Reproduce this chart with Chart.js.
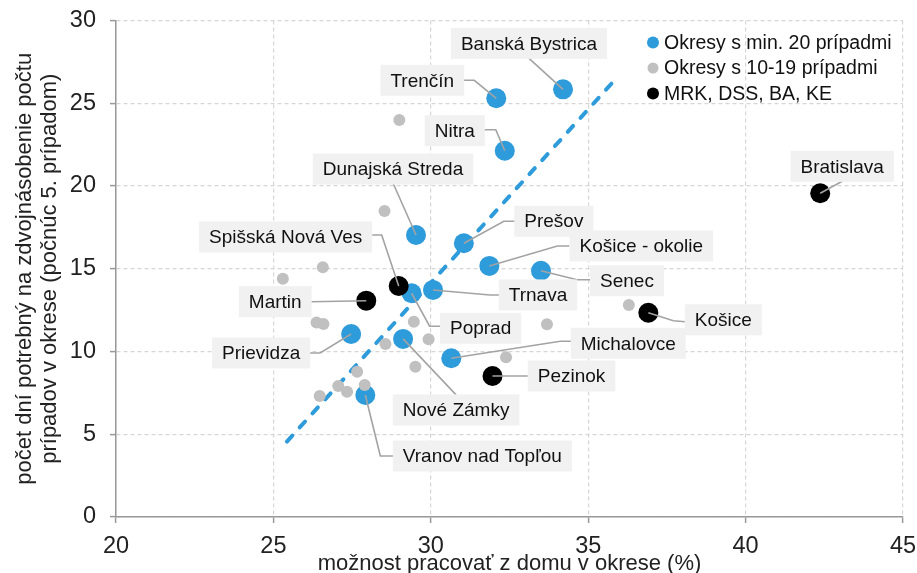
<!DOCTYPE html>
<html>
<head>
<meta charset="utf-8">
<script src="https://cdn.jsdelivr.net/npm/chart.js@4.4.1/dist/chart.umd.min.js"></script>
<style>
  html, body { margin: 0; padding: 0; background: #fff; }
</style>
</head>
<body>
<canvas id="chart" width="917" height="573"></canvas>
<script>
// districts with at least 20 cases
const blueNames = ["Banská Bystrica", "Trenčín", "Nitra", "Dunajská Streda", "Prešov", "Košice - okolie",
    "Senec", "Trnava", "Poprad", "Prievidza", "Nové Zámky", "Michalovce", "Vranov nad Topľou"];
const blueX = [34.20, 32.08, 32.35, 29.53, 31.05, 31.86, 33.50, 30.07, 29.39, 27.47, 29.12, 30.65, 27.92];
const blueY = [25.84, 25.30, 22.13, 17.04, 16.54, 15.17, 14.88, 13.72, 13.52, 11.06, 10.76, 9.59, 7.37];

// districts with 10-19 cases
const grayX = [29.00, 28.53, 26.57, 25.30, 26.37, 26.59, 29.46, 29.93, 28.56, 29.51, 33.69, 32.39, 36.29,
    26.47, 27.06, 27.34, 27.90, 27.66];
const grayY = [23.99, 18.49, 15.09, 14.40, 11.75, 11.66, 11.80, 10.74, 10.45, 9.08, 11.64, 9.65, 12.81,
    7.31, 7.92, 7.57, 7.98, 8.78];

// MRK, DSS, BA, KE
const blackNames = ["Bratislava", "Spišská Nová Ves", "Martin", "Košice", "Pezinok"];
const blackX = [42.37, 28.98, 27.95, 36.91, 31.96];
const blackY = [19.56, 13.96, 13.07, 12.34, 8.52];

// fitted line
const trendX = [25.43, 35.89];
const trendY = [4.56, 26.5];

const seriesNames = ["Okresy s min. 20 prípadmi", "Okresy s 10-19 prípadmi", "MRK, DSS, BA, KE"];
const xTitle = "možnost pracovať z domu v okrese (%)";
const yTitle = ["počet dní potrebný na zdvojnásobenie počtu", "prípadov v okrese (počnúc 5. prípadom)"];

const FONT = "'Liberation Sans', Arial, sans-serif";
const BLUE = "#2e9bdb";
const GRAY = "#c0c0c0";
const BLACK = "#000000";

// label box offset from the point (px) and leader path (anchor, elbow), also relative to the point
const callouts = {
    "Banská Bystrica": { box: [-34, -46], path: [[-34, -31]] },
    "Trenčín": { box: [-74, -18], path: [[-33, -18], [-22, -18]] },
    "Nitra": { box: [-50, -20], path: [[-21, -21], [-9, -21]] },
    "Dunajská Streda": { box: [-23, -66], path: [[-23, -52]] },
    "Spišská Nová Ves": { box: [-113, -49], path: [[-28, -51], [-17, -51]] },
    "Martin": { box: [-91, 1], path: [[-55, 1]] },
    "Prievidza": { box: [-90, 19], path: [[-43, 19], [-31, 19]] },
    "Prešov": { box: [90, -22], path: [[53, -22], [40, -22]] },
    "Košice - okolie": { box: [152, -20], path: [[80, -20], [68, -20]] },
    "Senec": { box: [86, 10], path: [[50, 9], [36, 9]] },
    "Trnava": { box: [105, 5], path: [[66, 5], [57, 5]] },
    "Poprad": { box: [69, 35], path: [[29, 33], [18, 33]] },
    "Michalovce": { box: [177, -15], path: [[121, -17], [109, -17]] },
    "Pezinok": { box: [79, 0], path: [[37, 0]] },
    "Nové Zámky": { box: [53, 71], path: [[53, 56]] },
    "Vranov nad Topľou": { box: [117, 61], path: [[28, 61], [15, 61]] },
    "Bratislava": { box: [22, -27], path: [[22, -12]] },
    "Košice": { box: [75, 7], path: [[37, 9], [25, 8]] }
};

function toPoints(xs, ys) {
    return xs.map((x, i) => ({ x: x, y: ys[i] }));
}

const calloutPlugin = {
    id: "callouts",
    afterDatasetsDraw(chart) {
        const ctx = chart.ctx;
        ctx.save();
        ctx.font = "19px " + FONT;
        chart.data.datasets.forEach((ds, di) => {
            if (!ds.names) return;
            const meta = chart.getDatasetMeta(di);
            ds.names.forEach((name, i) => {
                const c = callouts[name];
                if (!c) return;
                const px = meta.data[i].x;
                const py = meta.data[i].y;
                // leader line
                ctx.strokeStyle = "#a3a3a3";
                ctx.lineWidth = 1.6;
                ctx.beginPath();
                ctx.moveTo(px + c.path[0][0], py + c.path[0][1]);
                for (let k = 1; k < c.path.length; k++) {
                    ctx.lineTo(px + c.path[k][0], py + c.path[k][1]);
                }
                ctx.lineTo(px, py);
                ctx.stroke();
                // box
                const w = ctx.measureText(name).width + 20;
                const h = 31;
                const bx = px + c.box[0];
                const by = py + c.box[1];
                ctx.fillStyle = "#f1f1f1";
                ctx.fillRect(bx - w / 2, by - h / 2, w, h);
                ctx.fillStyle = "#111";
                ctx.textAlign = "center";
                ctx.textBaseline = "middle";
                ctx.fillText(name, bx, by + 1);
            });
        });
        ctx.restore();
    }
};

const legendPlugin = {
    id: "fixedLegend",
    afterDraw(chart) {
        const ctx = chart.ctx;
        const area = chart.chartArea;
        ctx.save();
        ctx.font = "19.5px " + FONT;
        ctx.textBaseline = "middle";
        ctx.textAlign = "left";
        const x0 = area.right - 250;
        const y0 = area.top + 22;
        [0, 1, 2].forEach((di) => {
            const ds = chart.data.datasets[di];
            const y = y0 + di * 25.5;
            ctx.fillStyle = ds.backgroundColor;
            ctx.beginPath();
            ctx.arc(x0, y, di === 1 ? 5.5 : 6, 0, Math.PI * 2);
            ctx.fill();
            ctx.fillStyle = "#111";
            ctx.fillText(ds.label, x0 + 11, y + 1);
        });
        ctx.restore();
    }
};

const ctx = document.getElementById("chart").getContext("2d");

new Chart(ctx, {
    type: "scatter",
    data: {
        datasets: [
            {
                label: seriesNames[0],
                names: blueNames,
                data: toPoints(blueX, blueY),
                backgroundColor: BLUE,
                pointRadius: 10,
                borderWidth: 0,
                order: 2
            },
            {
                label: seriesNames[1],
                data: toPoints(grayX, grayY),
                backgroundColor: GRAY,
                pointRadius: 6,
                borderWidth: 0,
                order: 1
            },
            {
                label: seriesNames[2],
                names: blackNames,
                data: toPoints(blackX, blackY),
                backgroundColor: BLACK,
                pointRadius: 10,
                borderWidth: 0,
                order: 0
            },
            {
                label: "trend",
                data: toPoints(trendX, trendY),
                showLine: true,
                borderColor: BLUE,
                borderWidth: 4,
                borderDash: [8, 11],
                borderCapStyle: "round",
                pointRadius: 0,
                order: 3
            }
        ]
    },
    options: {
        responsive: false,
        animation: false,
        layout: { padding: { top: 20.5, right: 14, left: 0, bottom: 0 } },
        plugins: {
            legend: { display: false },
            tooltip: { enabled: false }
        },
        scales: {
            x: {
                type: "linear",
                min: 20,
                max: 45,
                ticks: { stepSize: 5, color: "#222", font: { family: FONT, size: 23.5 }, padding: 9 },
                grid: { color: "#d6d6d6", lineWidth: 1.2, tickColor: "#999", tickLength: 6, tickWidth: 1.5, tickBorderDash: [] },
                border: { display: true, color: "#999", width: 1.5, dash: [4, 3] },
                title: { display: true, text: xTitle, color: "#222", font: { family: FONT, size: 22, lineHeight: 0.8 }, padding: 0 },
                afterFit(scale) {
                    scale.height = 56;
                    scale.paddingLeft = 0;
                    scale.paddingRight = 0;
                }
            },
            y: {
                min: 0,
                max: 30,
                ticks: { stepSize: 5, color: "#222", font: { family: FONT, size: 23.5 }, padding: 14 },
                grid: { color: "#d6d6d6", lineWidth: 1.2, tickColor: "#999", tickLength: 6, tickWidth: 1.5, tickBorderDash: [] },
                border: { display: true, color: "#999", width: 1.5, dash: [4, 3] },
                title: { display: true, text: yTitle, color: "#222", font: { family: FONT, size: 22, lineHeight: 1.14 }, padding: { top: 12, bottom: 0 } },
                afterFit(scale) {
                    scale.width = 116;
                    scale.paddingTop = 0;
                    scale.paddingBottom = 0;
                }
            }
        }
    },
    plugins: [calloutPlugin, legendPlugin]
});
</script>
</body>
</html>
